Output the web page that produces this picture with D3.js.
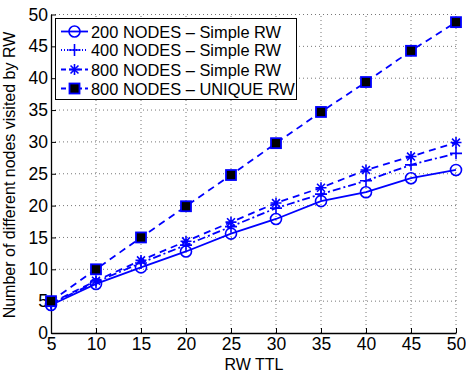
<!DOCTYPE html>
<html><head><meta charset="utf-8">
<script src="https://cdn.jsdelivr.net/npm/d3@7"></script>
<style>body{margin:0;background:#fff}svg{display:block}text{font-family:"Liberation Sans",Arial,sans-serif}</style>
</head><body><svg id="c" width="466" height="372"></svg>
<script>
const ttl = [5,10,15,20,25,30,35,40,45,50];
const nodes200 = [4.4,7.7,10.3,12.8,15.6,17.9,20.7,22.1,24.3,25.6];
const nodes400 = [4.6,8.0,11.0,13.8,16.7,19.6,21.8,23.9,26.4,28.2];
const nodes800 = [4.7,8.2,11.4,14.4,17.4,20.4,22.8,25.6,27.7,29.9];
const unique800 = [5.0,10.0,15.0,19.9,24.8,29.8,34.7,39.4,44.3,48.8];
const xTicks = [5,10,15,20,25,30,35,40,45,50];
const yTicks = [0,5,10,15,20,25,30,35,40,45,50];
const labels = ["200 NODES \u2013 Simple RW","400 NODES \u2013 Simple RW","800 NODES \u2013 Simple RW","800 NODES \u2013 UNIQUE RW"];

const blue = "#0000ff";
const svg = d3.select("#c");
const x = d3.scaleLinear().domain([5,50]).range([51,456]);
const y = d3.scaleLinear().domain([0,50]).range([333,14.5]);

// grid
const g = svg.append("g");
g.selectAll(".gx").data(xTicks.slice(1)).join("line")
  .attr("x1",d=>x(d)).attr("x2",d=>x(d)).attr("y1",y(0)).attr("y2",y(50))
  .attr("stroke","#777").attr("stroke-width",1).attr("stroke-dasharray","1,3");
g.selectAll(".gy").data(yTicks.slice(1)).join("line")
  .attr("x1",x(5)).attr("x2",x(50)).attr("y1",d=>y(d)).attr("y2",d=>y(d))
  .attr("stroke","#777").attr("stroke-width",1).attr("stroke-dasharray","1,3");

// axes
const xa = svg.append("g").attr("transform",`translate(0,${y(0)})`)
  .call(d3.axisBottom(x).tickValues(xTicks).tickSizeInner(-5).tickSizeOuter(0).tickPadding(5));
const ya = svg.append("g").attr("transform",`translate(${x(5)},0)`)
  .call(d3.axisLeft(y).tickValues(yTicks).tickSizeInner(-5).tickSizeOuter(0).tickPadding(3));
[xa,ya].forEach(a=>{
  a.select(".domain").attr("stroke","#000").attr("stroke-width",1.3);
  a.selectAll(".tick line").attr("stroke","#000");
  a.selectAll("text").attr("font-size",17.5).attr("fill","#000").attr("font-family","'Liberation Sans',Arial,sans-serif");
});

svg.append("text").attr("x",254).attr("y",370).attr("text-anchor","middle")
  .attr("font-size",16).text("RW TTL");
svg.append("text").attr("transform","translate(15,175) rotate(-90)").attr("text-anchor","middle")
  .attr("font-size",16).text("Number of different nodes visited by RW");

const series = [
  {vals:nodes200, dash:null, marker:"circle"},
  {vals:nodes400, dash:"8,3,2,3", marker:"plus"},
  {vals:nodes800, dash:"7,5", marker:"star"},
  {vals:unique800, dash:"7,5", marker:"square"}
];
const line = d3.line().x((d,i)=>x(ttl[i])).y(d=>y(d));

function drawMarker(sel, type, cx, cy){
  if(type==="circle"){
    sel.append("circle").attr("cx",cx).attr("cy",cy).attr("r",5.5)
      .attr("fill","none").attr("stroke",blue).attr("stroke-width",1.6);
  } else if(type==="plus"){
    sel.append("path").attr("d",`M${cx-6},${cy}H${cx+6}M${cx},${cy-6}V${cy+6}`)
      .attr("stroke",blue).attr("stroke-width",1.6);
  } else if(type==="star"){
    const r=5.5, d=r*0.72;
    sel.append("path").attr("d",`M${cx-r},${cy}H${cx+r}M${cx},${cy-r}V${cy+r}M${cx-d},${cy-d}L${cx+d},${cy+d}M${cx-d},${cy+d}L${cx+d},${cy-d}`)
      .attr("stroke",blue).attr("stroke-width",1.6);
  } else {
    sel.append("rect").attr("x",cx-5).attr("y",cy-5).attr("width",10).attr("height",10)
      .attr("fill","#000").attr("stroke",blue).attr("stroke-width",1.8);
  }
}

series.forEach(s=>{
  const gs = svg.append("g");
  gs.append("path").datum(s.vals).attr("d",line).attr("fill","none")
    .attr("stroke",blue).attr("stroke-width",1.8)
    .attr("stroke-dasharray",s.dash);
  s.vals.forEach((v,i)=>drawMarker(gs,s.marker,x(ttl[i]),y(v)));
});

// legend
const lg = svg.append("g");
lg.append("rect").attr("x",55.5).attr("y",18.5).attr("width",241).attr("height",81)
  .attr("fill","#fff").attr("stroke","#000").attr("stroke-width",1);
const ly = [31.5,50,69.5,88.5];
series.forEach((s,i)=>{
  lg.append("line").attr("x1",61).attr("x2",88).attr("y1",ly[i]).attr("y2",ly[i])
    .attr("stroke",blue).attr("stroke-width",1.8).attr("stroke-dasharray",s.dash?(i===1?"1,2":"5,3"):null);
  drawMarker(lg,s.marker,74.5,ly[i]);
  lg.append("text").attr("x",91).attr("y",ly[i]+6).attr("font-size",16.4).text(labels[i]);
});
</script></body></html>
